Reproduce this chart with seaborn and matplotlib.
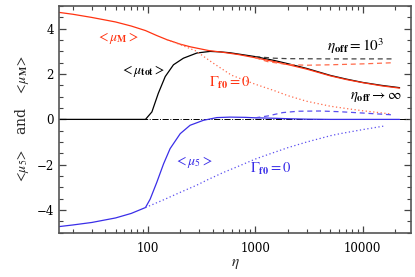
#!/usr/bin/env python3

import matplotlib
matplotlib.use("Agg")
import matplotlib.pyplot as plt
import seaborn as sns
from matplotlib.ticker import LogLocator, MultipleLocator, FuncFormatter, NullFormatter


# <mu_M>, full model
eta_m = [15, 20, 30, 50, 70, 95, 121, 150, 200, 250, 366, 500, 700, 1000, 1500, 2000, 3000, 5000, 7000, 10000, 15000, 22000]
mu_m = [4.72, 4.64, 4.5, 4.3, 4.12, 3.92, 3.7, 3.52, 3.32, 3.2, 3.04, 2.96, 2.86, 2.72, 2.55, 2.42, 2.22, 1.92, 1.76, 1.62, 1.48, 1.38]

# <mu_M>, Gamma_f0 = 0
eta_m_g0 = [150, 200, 280, 400, 600, 1000, 1500, 2000, 3000, 5000, 7000, 10000, 13000, 18000]
mu_m_g0 = [3.52, 3.3, 3.02, 2.5, 1.95, 1.55, 1.27, 1.05, 0.8, 0.58, 0.48, 0.38, 0.32, 0.24]

# <mu_M>, eta_off = 1e3
eta_m_off = [1000, 1300, 2000, 3000, 5000, 10000, 19000]
mu_m_off = [2.72, 2.55, 2.42, 2.39, 2.41, 2.45, 2.5]

# <mu_5>, full model
eta_5 = [15, 20, 30, 50, 70, 95, 105, 121, 140, 161, 200, 247, 329, 439, 582, 800, 1000, 1500, 2000, 3000, 5000, 10000, 22000]
mu_5 = [-4.73, -4.66, -4.55, -4.35, -4.15, -3.89, -3.52, -2.78, -1.96, -1.29, -0.63, -0.26, -0.04, 0.08, 0.1, 0.09, 0.07, 0.05, 0.03, 0.01, 0.0, 0.0, 0.0]

# <mu_5>, Gamma_f0 = 0
eta_5_g0 = [95, 140, 200, 286, 354, 500, 671, 1000, 1370, 2000, 3000, 5000, 6150, 10000, 15500]
mu_5_g0 = [-3.89, -3.55, -3.22, -2.9, -2.68, -2.35, -2.1, -1.75, -1.52, -1.25, -1.0, -0.72, -0.63, -0.45, -0.3]

# <mu_5>, eta_off = 1e3
eta_5_off = [1000, 1300, 1800, 2500, 4000, 6000, 10000, 19000]
mu_5_off = [0.07, 0.15, 0.3, 0.36, 0.37, 0.34, 0.28, 0.2]

# <mu_tot>, full model
eta_tot = [15, 95, 109, 125, 145, 173, 214, 286, 379, 470, 582, 800, 1000, 1500, 2000, 3000, 5000, 7000, 10000, 15000, 22000]
mu_tot = [0, 0, 0.33, 1.15, 1.89, 2.41, 2.7, 2.93, 3.0, 2.98, 2.94, 2.84, 2.77, 2.6, 2.46, 2.25, 1.94, 1.78, 1.63, 1.5, 1.4]

# <mu_tot>, eta_off = 1e3
eta_tot_off = [1000, 1500, 2000, 5000, 10000, 19000]
mu_tot_off = [2.77, 2.7, 2.68, 2.67, 2.67, 2.67]

zero_line_x = [15, 28000]
zero_line_y = [0, 0]

red = "#ff3311"
red_light = "#ff6a4a"
blue = "#3a2ee8"
blue_light = "#5a4ef0"

sns.set_style("ticks")
plt.rcParams["font.family"] = ["DejaVu Serif"]
plt.rcParams["mathtext.fontset"] = "stix"

fig = plt.figure(figsize=(4.15, 2.77), dpi=100)
ax = fig.add_axes([0.143, 0.16, 0.847, 0.818])

lw = 0.9
sns.lineplot(x=zero_line_x, y=zero_line_y, ax=ax, color="black", linestyle="-.", linewidth=0.7)
sns.lineplot(x=eta_tot, y=mu_tot, ax=ax, color="black", linewidth=lw)
sns.lineplot(x=eta_tot_off, y=mu_tot_off, ax=ax, color="#444444", linestyle=(0, (4, 3)), linewidth=lw)
sns.lineplot(x=eta_m, y=mu_m, ax=ax, color=red, linewidth=lw)
sns.lineplot(x=eta_m_g0, y=mu_m_g0, ax=ax, color=red_light, linestyle=(0, (1, 2)), linewidth=lw)
sns.lineplot(x=eta_m_off, y=mu_m_off, ax=ax, color=red_light, linestyle=(0, (4, 3)), linewidth=lw)
sns.lineplot(x=eta_5, y=mu_5, ax=ax, color=blue, linewidth=lw)
sns.lineplot(x=eta_5_g0, y=mu_5_g0, ax=ax, color=blue_light, linestyle=(0, (1, 2)), linewidth=lw)
sns.lineplot(x=eta_5_off, y=mu_5_off, ax=ax, color=blue_light, linestyle=(0, (4, 3)), linewidth=lw)

ax.set_xscale("log")
ax.set_xlim(15, 28000)
ax.set_ylim(-5, 5)

ax.xaxis.set_major_locator(LogLocator(base=10, numticks=10))
ax.xaxis.set_minor_locator(LogLocator(base=10, subs=range(2, 10), numticks=20))
ax.xaxis.set_major_formatter(FuncFormatter(lambda v, p: f"{v:g}"))
ax.xaxis.set_minor_formatter(NullFormatter())
ax.yaxis.set_major_locator(MultipleLocator(2))
ax.yaxis.set_minor_locator(MultipleLocator(0.5))

ax.tick_params(which="both", direction="in", top=True, right=True, colors="#444444", labelcolor="black")
ax.tick_params(which="major", length=5, width=0.9, labelsize=8.5)
ax.tick_params(which="minor", length=2.8, width=0.8)
ax.tick_params(axis="x", pad=7)
ax.tick_params(axis="y", pad=4)
for spine in ax.spines.values():
    spine.set_color("#555555")
    spine.set_linewidth(1.2)

ax.set_xlabel(r"$\eta$", fontsize=11, labelpad=1)
ax.set_ylabel(r"$<\!\mu_5\!>$   and   $<\!\mu_{\mathbf{M}}\!>$", fontsize=10, labelpad=4)

ax.text(52, 3.6, r"$<\mu_{\mathbf{M}}>$", color=red, fontsize=10, ha="center", va="center")
ax.text(90, 2.14, r"$<\mu_{\mathbf{tot}}>$", color="black", fontsize=10, ha="center", va="center")
ax.text(571, 1.6, r"$\Gamma_{\mathbf{f0}} = 0$", color=red, fontsize=10.5, ha="center", va="center")
ax.text(8500, 3.23, r"$\eta_{\mathbf{off}} = 10^3$", color="black", fontsize=11, ha="center", va="center")
ax.text(13300, 0.99, r"$\eta_{\mathbf{off}} \rightarrow \infty$", color="black", fontsize=10.5, ha="center", va="center")
ax.text(264, -1.9, r"$<\mu_5>$", color=blue, fontsize=10, ha="center", va="center")
ax.text(1400, -2.17, r"$\Gamma_{\mathbf{f0}} = 0$", color=blue, fontsize=10.5, ha="center", va="center")

plt.savefig("out.png", dpi=100)
plt.close()
